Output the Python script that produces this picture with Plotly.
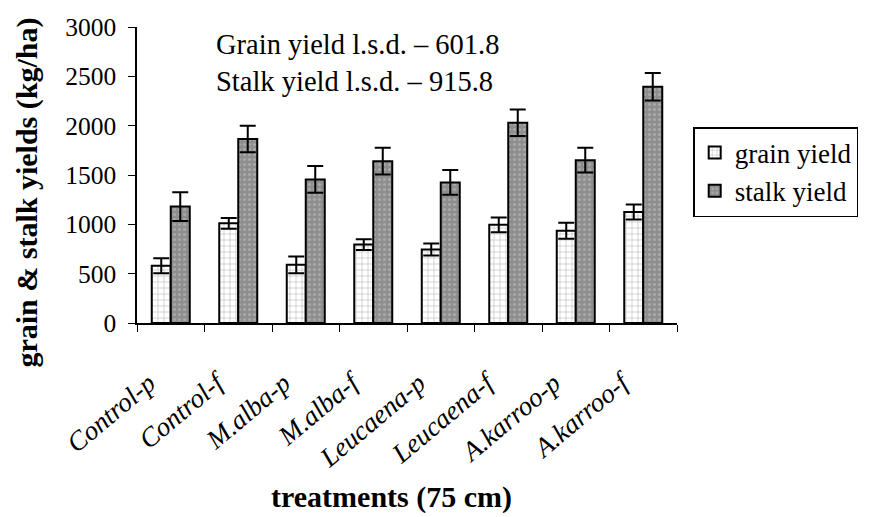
import plotly.graph_objects as go

treatments = ["Control-p", "Control-f", "M.alba-p", "M.alba-f",
              "Leucaena-p", "Leucaena-f", "A.karroo-p", "A.karroo-f"]
grain_yield = [580, 1010, 590, 795, 745, 995, 935, 1125]
grain_err = [75, 55, 85, 55, 60, 75, 80, 75]
stalk_yield = [1180, 1865, 1455, 1640, 1425, 2030, 1650, 2395]
stalk_err = [145, 135, 135, 135, 125, 135, 125, 140]
y_ticks = [0, 500, 1000, 1500, 2000, 2500, 3000]

FONT = "Liberation Serif"

fig = go.Figure()
fig.add_trace(go.Bar(
    name="grain yield", x=treatments, y=grain_yield,
    error_y=dict(type="data", array=grain_err, visible=True,
                 color="black", thickness=2, width=8),
    marker=dict(color="white",
                line=dict(color="black", width=2),
                pattern=dict(shape="+", fgcolor="#6a6a6a", bgcolor="white",
                             size=6, solidity=0.18)),
))
fig.add_trace(go.Bar(
    name="stalk yield", x=treatments, y=stalk_yield,
    error_y=dict(type="data", array=stalk_err, visible=True,
                 color="black", thickness=2, width=8),
    marker=dict(color="#8e8e8e",
                line=dict(color="black", width=2),
                pattern=dict(shape=".", fgcolor="#c4c4c4", bgcolor="#8e8e8e",
                             size=5, solidity=0.3)),
))

# l.s.d. note in the upper left of the plot
fig.add_annotation(
    xref="paper", yref="paper", x=0.142, y=1.0,
    xanchor="left", yanchor="top", align="left", showarrow=False,
    text="Grain yield l.s.d. – 601.8<br>Stalk yield l.s.d. – 915.8",
    font=dict(family=FONT, size=28.5, color="black"),
)
# axis titles
fig.add_annotation(
    xref="paper", yref="paper", x=-0.204, y=0.44,
    xanchor="center", yanchor="middle", textangle=-90, showarrow=False,
    text="<b>grain & stalk yields (kg/ha)</b>",
    font=dict(family=FONT, size=30, color="black"),
)
fig.add_annotation(
    xref="paper", yref="paper", x=0.472, y=-0.588,
    xanchor="center", yanchor="middle", showarrow=False,
    text="<b>treatments (75 cm)</b>",
    font=dict(family=FONT, size=30, color="black"),
)

fig.update_layout(
    width=871, height=517,
    margin=dict(l=137, r=194, t=27, b=194),
    paper_bgcolor="white", plot_bgcolor="white",
    barmode="group", bargap=0.437, bargroupgap=0,
    font=dict(family=FONT, color="black"),
    legend=dict(
        x=1.03, y=0.662, xanchor="left", yanchor="top",
        bordercolor="black", borderwidth=1.5, bgcolor="white",
        font=dict(family=FONT, size=27, color="black"),
        itemwidth=30, tracegroupgap=0,
    ),
    showlegend=True,
)
fig.update_xaxes(
    showline=True, linecolor="black", linewidth=1.5,
    ticks="outside", tickson="boundaries", ticklen=7, tickcolor="black",
    tickangle=-40, ticklabelstandoff=32, ticklabelshift=-22,
    tickfont=dict(family=FONT, size=27, style="italic", color="black"),
    showgrid=False,
)
fig.update_yaxes(
    range=[0, 3000], tickvals=y_ticks,
    showline=True, linecolor="black", linewidth=1.5,
    ticks="outside", ticklen=7, tickcolor="black", ticklabelstandoff=7,
    tickfont=dict(family=FONT, size=25.5, color="black"),
    showgrid=False, zeroline=False,
)

fig.write_html("out.html")
